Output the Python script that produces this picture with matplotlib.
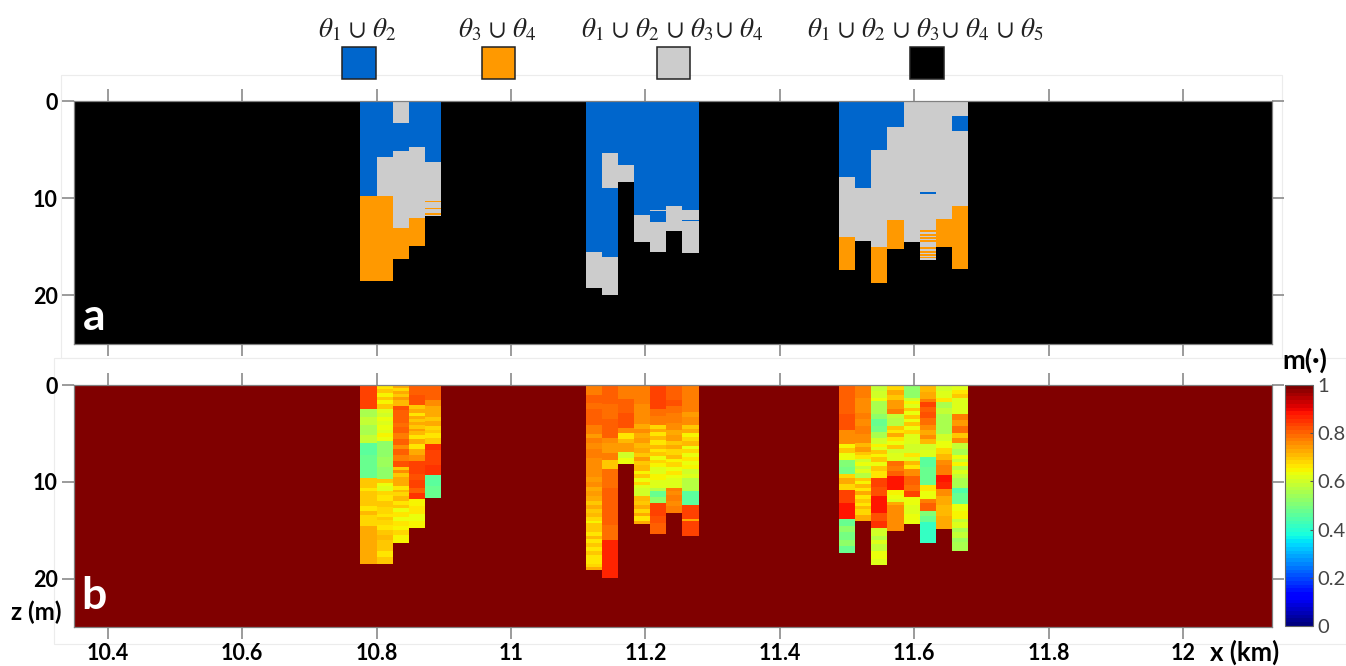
import numpy as np
import matplotlib
matplotlib.use('Agg')
import matplotlib.pyplot as plt
from matplotlib.colors import ListedColormap
from matplotlib.patches import Rectangle

plt.rcParams['font.family'] = ['Lato', 'DejaVu Sans']
plt.rcParams['mathtext.fontset'] = 'stix'

W, H = 1346, 666

# classes of panel a
B, O, G, K = 0, 1, 2, 3
class_colors = ['#0066cc', '#ff9900', '#cccccc', '#000000']
legend_labels = [r'$\theta_1\,\cup\,\theta_2$', r'$\theta_3\,\cup\,\theta_4$',
                 r'$\theta_1\,\cup\,\theta_2\,\cup\,\theta_3\!\cup\,\theta_4$',
                 r'$\theta_1\,\cup\,\theta_2\,\cup\,\theta_3\!\cup\,\theta_4\,\cup\,\theta_5$']

# x edges of the logged columns, km
group_edges = [
    [10.776, 10.800, 10.824, 10.848, 10.872, 10.896],
    [11.111, 11.135, 11.159, 11.183, 11.207, 11.231, 11.255, 11.279],
    [11.488, 11.512, 11.536, 11.560, 11.584, 11.608, 11.632, 11.656, 11.680],
]

# panel a: (bottom depth in m, class) going down each column
classes = [
    [(9.8, B), (18.5, O)],
    [(5.8, B), (9.8, G), (18.5, O)],
    [(2.3, G), (5.1, B), (13.1, G), (16.3, O)],
    [(4.7, B), (12.0, G), (14.9, O)],
    [(6.3, B), (10.25, G), (10.35, O), (10.65, G), (10.75, O), (11.05, G), (11.15, O),
     (11.55, G), (11.7, O), (11.8, G)],

    [(15.5, B), (19.2, G)],
    [(5.4, B), (9.0, G), (16.0, B), (20.0, G)],
    [(6.6, B), (8.3, G)],
    [(11.7, B), (14.5, G)],
    [(11.2, B), (11.35, G), (12.4, B), (15.5, G)],
    [(10.8, B), (13.4, G)],
    [(11.25, B), (12.2, G), (12.35, B), (15.6, G)],

    [(7.8, B), (14.0, G), (17.4, O)],
    [(9.0, B), (14.4, G)],
    [(5.0, B), (15.0, G), (18.7, O)],
    [(2.7, B), (12.2, G), (15.2, O)],
    [(14.5, G)],
    [(9.4, G), (9.6, B), (13.3, G), (13.5, O), (13.65, G), (13.85, O), (14.0, G), (14.2, O),
     (14.35, G), (14.55, O), (15.05, G), (15.25, O), (15.4, G), (15.6, O), (15.75, G),
     (15.95, O), (16.1, G), (16.2, O), (16.4, G)],
    [(12.1, G), (15.05, O)],
    [(1.5, G), (3.1, B), (10.8, G), (17.3, O)],
]

# panel b: (bottom depth in m, membership) going down each column
membership = [
    [(2.5, .83), (3.3, .56), (4.1, .59), (5.2, .56), (6.0, .58), (7.2, .46), (8.3, .48), (9.65, .47),
     (10.6, .69), (11.0, .67), (12.5, .70), (13.0, .67), (13.4, .71), (14.6, .68), (16.0, .73), (18.45, .72)],
    [(0.4, .67), (0.8, .70), (1.2, .65), (1.6, .69), (2.0, .65), (2.5, .70), (2.9, .62), (3.3, .60),
     (3.7, .63), (4.1, .61), (4.6, .64), (5.0, .62), (5.4, .65), (5.8, .63), (6.6, .53), (7.4, .52),
     (8.5, .54), (9.75, .52), (10.1, .69), (10.4, .64), (10.9, .62), (11.4, .68), (12.0, .66),
     (12.6, .69), (13.3, .68), (13.6, .66), (13.9, .69), (14.5, .68), (15.0, .66), (15.5, .70),
     (16.0, .71), (16.6, .69), (17.2, .70), (17.8, .67), (18.45, .69)],
    [(0.3, .72), (0.6, .68), (0.9, .73), (1.2, .69), (1.6, .74), (2.2, .71), (2.6, .82), (3.0, .80),
     (3.9, .81), (4.3, .79), (5.0, .81), (5.6, .77), (6.2, .80), (6.6, .76), (7.2, .81), (7.8, .78),
     (8.5, .82), (8.8, .70), (9.1, .75), (9.5, .69), (9.8, .72), (10.4, .73), (10.8, .67), (11.1, .71),
     (11.5, .68), (12.0, .71), (12.4, .66), (12.7, .70), (13.1, .64), (13.6, .67), (14.0, .64),
     (14.6, .67), (15.0, .65), (15.5, .68), (16.3, .65)],
    [(1.0, .81), (2.1, .82), (2.5, .69), (2.9, .72), (3.2, .67), (3.5, .73), (3.8, .69), (4.1, .73),
     (4.5, .69), (4.8, .74), (5.2, .71), (5.6, .66), (6.1, .72), (6.6, .67), (7.2, .72), (7.8, .75),
     (8.5, .83), (9.2, .84), (9.8, .82), (10.6, .83), (11.2, .81), (11.8, .85), (12.5, .65),
     (13.3, .66), (14.0, .64), (14.75, .65)],
    [(0.8, .81), (1.6, .80), (2.2, .75), (2.8, .73), (3.3, .72), (3.7, .69), (4.2, .72), (4.6, .68),
     (5.0, .70), (5.5, .66), (6.1, .69), (6.7, .85), (7.5, .83), (8.3, .84), (9.25, .85), (10.4, .46),
     (11.7, .47)],

    [(1.0, .78), (1.9, .80), (2.5, .79), (3.2, .81), (4.1, .80), (5.1, .78), (5.5, .74), (6.0, .77),
     (6.6, .75), (7.5, .77), (8.7, .76), (9.5, .76), (10.0, .74), (10.5, .76), (11.0, .72), (11.5, .74),
     (12.0, .72), (12.4, .70), (12.8, .73), (13.2, .69), (13.6, .71), (14.0, .68), (14.3, .65),
     (14.7, .69), (15.2, .70), (15.6, .67), (15.9, .71), (16.3, .66), (16.7, .70), (17.1, .66),
     (17.6, .69), (18.0, .66), (18.5, .67), (18.8, .68), (19.15, .72)],
    [(2.0, .80), (3.5, .79), (5.45, .80), (6.0, .76), (7.0, .74), (7.7, .78), (8.7, .70),
     (10.6, .79), (12.5, .81), (14.5, .80), (16.0, .79), (18.0, .86), (19.95, .87)],
    [(1.4, .78), (2.9, .81), (4.4, .82), (5.0, .75), (5.6, .67), (6.0, .71), (6.9, .74),
     (7.5, .60), (8.15, .63)],
    [(1.0, .78), (2.0, .77), (3.2, .76), (4.0, .75), (4.5, .73), (5.0, .75), (5.5, .72), (6.0, .74),
     (6.5, .71), (7.0, .73), (7.4, .70), (7.8, .74), (8.3, .69), (8.9, .71), (9.2, .65), (9.6, .69),
     (10.0, .64), (10.3, .68), (10.6, .62), (11.5, .60), (12.0, .71), (12.4, .69), (12.8, .72),
     (13.2, .68), (13.5, .72), (14.0, .66), (14.4, .73)],
    [(1.2, .83), (2.5, .84), (3.2, .79), (4.1, .77), (4.5, .68), (4.9, .72), (5.3, .67), (5.7, .71),
     (6.2, .66), (6.6, .71), (6.9, .67), (7.3, .70), (7.7, .64), (8.1, .68), (8.5, .65), (9.2, .62),
     (9.8, .65), (10.6, .61), (11.0, .57), (11.6, .48), (12.2, .52), (13.5, .83), (14.3, .82), (15.4, .80)],
    [(1.5, .80), (2.2, .82), (2.9, .79), (3.9, .77), (4.6, .75), (5.2, .72), (5.8, .74), (6.2, .69),
     (6.6, .72), (7.2, .68), (7.6, .71), (8.0, .65), (8.5, .68), (8.9, .64), (9.3, .67), (9.6, .63),
     (10.6, .61), (11.0, .78), (11.4, .76), (12.0, .78), (12.5, .75), (13.2, .77)],
    [(1.3, .78), (2.8, .77), (3.3, .74), (4.1, .76), (4.5, .69), (5.0, .72), (5.4, .65), (5.8, .68),
     (6.3, .71), (6.6, .64), (7.0, .68), (7.4, .63), (7.9, .66), (8.3, .63), (8.7, .65), (9.2, .60),
     (9.6, .62), (11.0, .57), (12.35, .46), (13.8, .84), (14.0, .72), (14.3, .84), (15.55, .83)],

    [(1.5, .80), (3.0, .81), (4.6, .82), (6.07, .76), (6.5, .65), (7.0, .70), (7.7, .63), (8.5, .50),
     (9.2, .49), (9.6, .68), (10.2, .72), (10.8, .68), (12.2, .83), (13.8, .88), (14.6, .48), (15.2, .53),
     (16.0, .49), (16.6, .52), (17.35, .48)],
    [(1.3, .78), (2.0, .76), (2.9, .75), (3.5, .78), (4.2, .76), (5.1, .77), (6.0, .75), (6.4, .71),
     (6.9, .74), (7.2, .69), (7.6, .66), (8.0, .60), (8.4, .63), (8.7, .58), (9.1, .61), (9.6, .57),
     (9.9, .69), (10.2, .65), (10.6, .71), (11.0, .66), (11.4, .72), (11.8, .66), (12.2, .70), (12.5, .66),
     (12.8, .71), (13.4, .68), (14.05, .73)],
    [(0.6, .58), (1.3, .60), (1.7, .64), (3.0, .55), (3.5, .53), (4.2, .48), (4.9, .49), (5.5, .56),
     (6.1, .60), (6.4, .65), (6.7, .62), (7.1, .70), (7.4, .65), (8.0, .69), (8.4, .64), (8.9, .70),
     (9.6, .66), (10.5, .83), (11.5, .82), (13.2, .88), (14.0, .82), (14.75, .85), (15.6, .60), (16.0, .57),
     (16.4, .62), (17.2, .59), (18.0, .63), (18.6, .62)],
    [(0.5, .68), (1.0, .73), (1.5, .70), (2.5, .74), (3.0, .77), (3.4, .59), (4.2, .57), (4.6, .70),
     (5.0, .66), (5.4, .72), (5.8, .66), (6.2, .63), (6.6, .70), (7.0, .60), (7.9, .61), (8.4, .79),
     (8.9, .77), (9.4, .80), (10.8, .88), (11.4, .65), (11.8, .64), (12.1, .61), (12.4, .72), (13.5, .75),
     (15.1, .76)],
    [(1.3, .52), (1.7, .60), (2.0, .65), (2.4, .61), (2.7, .69), (3.1, .64), (3.5, .70), (3.8, .63),
     (4.2, .69), (4.6, .64), (5.1, .68), (6.1, .61), (7.0, .60), (7.4, .66), (7.9, .62), (8.3, .71),
     (8.7, .67), (9.4, .76), (10.3, .81), (11.0, .79), (11.6, .84), (12.4, .63), (13.3, .62), (14.35, .64)],
    [(0.7, .71), (1.4, .73), (1.8, .77), (2.3, .83), (2.8, .80), (3.4, .82), (4.1, .79), (4.6, .76),
     (5.2, .73), (5.6, .76), (6.1, .71), (6.7, .60), (7.4, .61), (8.5, .46), (10.3, .47), (11.0, .66),
     (11.8, .64), (12.2, .77), (13.0, .81), (13.5, .51), (14.2, .48), (15.2, .42), (16.3, .41)],
    [(0.6, .60), (1.3, .62), (1.8, .66), (2.4, .56), (3.0, .58), (4.0, .55), (5.1, .56), (5.8, .60),
     (6.5, .63), (7.1, .68), (7.7, .71), (8.3, .75), (9.25, .77), (10.0, .88), (10.7, .87), (11.5, .75),
     (12.4, .72), (13.5, .71), (14.9, .72)],
    [(0.5, .62), (0.9, .66), (1.3, .70), (2.0, .61), (3.0, .62), (3.6, .77), (4.2, .74), (5.0, .79),
     (5.5, .70), (6.0, .76), (6.6, .59), (7.2, .56), (7.6, .63), (8.0, .59), (8.4, .65), (8.8, .57),
     (9.2, .62), (9.6, .59), (10.6, .56), (11.2, .45), (12.3, .48), (13.0, .64), (13.8, .65), (14.2, .59),
     (14.8, .62), (15.2, .56), (15.8, .58), (16.2, .54), (17.2, .56)],
]

x_ticks = [10.4, 10.6, 10.8, 11, 11.2, 11.4, 11.6, 11.8, 12]
x_labels = ['10.4', '10.6', '10.8', '11', '11.2', '11.4', '11.6', '11.8', '12']
z_ticks = [0, 10, 20]
bar_ticks = [0, 0.2, 0.4, 0.6, 0.8, 1]
xlim = (10.35, 12.132)
zmax = 25
dz = 0.05


def px_axes(left, top, right, bottom):
    return fig.add_axes([left / W, 1 - bottom / H, (right - left) / W, (bottom - top) / H])


def fill_grid(columns, background):
    # put the column segments on a regular depth grid
    z_edges = np.arange(0, zmax + dz / 2, dz)
    z_mid = (z_edges[:-1] + z_edges[1:]) / 2
    x_edges = [xlim[0]]
    rows = []
    n = 0
    for edges in group_edges:
        x_edges += edges
        rows.append(np.full(len(z_mid), background, dtype=float))
        for i in range(len(edges) - 1):
            col = np.full(len(z_mid), background, dtype=float)
            top = 0
            for bottom, val in columns[n]:
                col[(z_mid >= top) & (z_mid < bottom)] = val
                top = bottom
            rows.append(col)
            n += 1
    x_edges.append(xlim[1])
    rows.append(np.full(len(z_mid), background, dtype=float))
    return np.array(x_edges), z_edges, np.array(rows).T


def style_axes(ax):
    ax.set_xlim(*xlim)
    ax.set_ylim(zmax, 0)
    ax.set_xticks(x_ticks)
    ax.set_yticks(z_ticks)
    ax.tick_params(top=True, bottom=True, left=True, right=True, direction='out', length=8.6,
                   width=1.1, color='#808080', labelsize=15.5, pad=3, labelcolor='black')
    for lab in ax.get_yticklabels():
        lab.set_fontweight('bold')
    for spine in ax.spines.values():
        spine.set_color('#808080')
        spine.set_linewidth(0.9)


fig = plt.figure(figsize=(W / 100, H / 100), dpi=100)

# faint frames of the pasted panels, behind the axes
for x0, y0, x1, y1 in [(61, 75, 1282, 358), (54, 358, 1346, 644)]:
    fig.add_artist(Rectangle((x0 / W, 1 - y1 / H), (x1 - x0) / W, (y1 - y0) / H, fc='white',
                             ec='#ececec', lw=0.8, transform=fig.transFigure, zorder=-1))

ax_a = px_axes(74, 101, 1272, 344)
xe, ze, grid = fill_grid(classes, K)
ax_a.pcolormesh(xe, ze, grid, cmap=ListedColormap(class_colors), vmin=-0.5, vmax=3.5)
style_axes(ax_a)
ax_a.set_xticklabels([])
ax_a.text(10.38, 22.2, 'a', color='white', fontsize=32, fontweight='bold', ha='center', va='center')

ax_b = px_axes(74, 385, 1272, 627)
xe, ze, grid = fill_grid(membership, 1.0)
mesh = ax_b.pcolormesh(xe, ze, grid, cmap=plt.get_cmap('jet', 64), vmin=0, vmax=1)
style_axes(ax_b)
ax_b.set_xticklabels(x_labels, fontweight='bold')
ax_b.text(10.38, 21.8, 'b', color='white', fontsize=32, fontweight='bold', ha='center', va='center')

cax = px_axes(1285, 385, 1313, 626)
cbar = fig.colorbar(mesh, cax=cax, ticks=bar_ticks)
cbar.ax.set_yticklabels(['0', '0.2', '0.4', '0.6', '0.8', '1'])
cbar.ax.tick_params(direction='in', length=2.5, width=0.8, color='#555555', labelsize=14.5,
                    labelcolor='#444444', pad=3)
cbar.outline.set_edgecolor('#666666')
cbar.outline.set_linewidth(0.8)

# legend swatches above the panels
swatch_x = [(342, 376), (482, 515), (657, 690), (910, 944)]
label_x = [357, 497, 672, 925]
for (x0, x1), lx, color, label in zip(swatch_x, label_x, class_colors, legend_labels):
    fig.add_artist(Rectangle((x0 / W, 1 - 78.5 / H), (x1 - x0) / W, 31.5 / H, fc=color, ec='#222222',
                             lw=1.1, transform=fig.transFigure))
    fig.text(lx / W, 1 - 30 / H, label, fontsize=19.5, ha='center', va='center', color='#222222')

fig.text(1245 / W, 1 - 652 / H, 'x (km)', fontsize=18.5, fontweight='bold', ha='center', va='center')
fig.text(36 / W, 1 - 612 / H, 'z (m)', fontsize=17.5, fontweight='bold', ha='center', va='center')
fig.text(1305 / W, 1 - 360 / H, 'm(·)', fontsize=19.5, fontweight='bold', ha='center', va='center')

fig.savefig('out.png', dpi=100)
